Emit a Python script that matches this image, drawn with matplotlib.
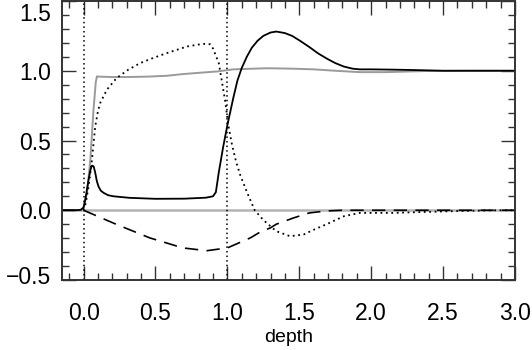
import matplotlib
matplotlib.use("Agg")
import matplotlib.pyplot as plt
from matplotlib.ticker import MultipleLocator
from matplotlib.transforms import ScaledTranslation

# solid black curve
x_solid = [-0.15, -0.06, -0.02, 0.0, 0.012, 0.035, 0.048, 0.058, 0.07, 0.081, 0.092,
           0.104, 0.12, 0.139, 0.17, 0.208, 0.32, 0.5, 0.7, 0.85, 0.9, 0.92, 0.94,
           0.97, 1.0, 1.04, 1.07, 1.1, 1.135, 1.17, 1.21, 1.25, 1.3, 1.34, 1.4, 1.45,
           1.505, 1.57, 1.63, 1.69, 1.75, 1.81, 1.87, 1.92, 2.0, 2.15, 2.3, 2.5, 2.75, 3.0]
y_solid = [0.0, 0.0, 0.003, 0.02, 0.077, 0.22, 0.29, 0.32, 0.315, 0.27, 0.21,
           0.17, 0.14, 0.125, 0.108, 0.10, 0.089, 0.082, 0.083, 0.09, 0.10, 0.13, 0.27,
           0.45, 0.61, 0.80, 0.93, 1.02, 1.10, 1.165, 1.215, 1.25, 1.274, 1.281, 1.27, 1.25,
           1.215, 1.17, 1.125, 1.088, 1.055, 1.03, 1.015, 1.01, 1.01, 1.008, 1.005, 1.0, 1.0, 1.0]

# dotted black curve
x_dot = [0.0, 0.015, 0.035, 0.058, 0.081, 0.1, 0.116, 0.162, 0.23, 0.31, 0.394, 0.48,
         0.58, 0.72, 0.83, 0.88, 0.9, 0.94, 0.96, 0.985, 1.005, 1.03, 1.06, 1.09, 1.14,
         1.19, 1.25, 1.3, 1.34, 1.435, 1.53, 1.6, 1.69, 1.81, 1.92, 2.15, 2.38, 2.62, 2.9, 3.0]
y_dot = [0.0, 0.05, 0.17, 0.36, 0.60, 0.71, 0.77, 0.864, 0.948, 1.007, 1.055, 1.09,
         1.127, 1.174, 1.193, 1.19, 1.16, 1.055, 0.935, 0.78, 0.62, 0.48, 0.35, 0.25, 0.12,
         0.0, -0.07, -0.115, -0.15, -0.186, -0.174, -0.14, -0.10, -0.043, -0.019, -0.019,
         -0.012, -0.005, 0.0, 0.0]

# dashed black curve
x_dash = [-0.15, 0.0, 0.07, 0.23, 0.46, 0.69, 0.857, 1.0, 1.16, 1.23, 1.3, 1.34, 1.46,
          1.57, 1.69, 1.8, 2.0, 2.5, 3.0]
y_dash = [0.0, 0.0, -0.031, -0.102, -0.198, -0.27, -0.29, -0.27, -0.198, -0.155, -0.126,
          -0.10, -0.055, -0.019, -0.005, 0.0, 0.0, 0.0, 0.0]

# grey curve
x_grey = [-0.15, -0.02, 0.0, 0.024, 0.047, 0.069, 0.085, 0.093, 0.1, 0.2, 0.3, 0.45,
          0.58, 0.69, 0.8, 0.93, 1.04, 1.27, 1.45, 1.6, 1.75, 1.92, 2.1, 2.38, 2.7, 3.0]
y_grey = [0.0, 0.0, 0.017, 0.125, 0.36, 0.72, 0.92, 0.96, 0.958, 0.955, 0.955, 0.958,
          0.964, 0.976, 0.985, 0.995, 1.01, 1.018, 1.015, 1.01, 1.0, 0.99, 0.99, 0.998, 1.0, 1.0]

zero_x = [-0.15, 3.0]
zero_y = [0.0, 0.0]
markers_x = [0.0, 1.0]

plt.rcParams["font.family"] = ["Liberation Sans", "DejaVu Sans"]

fig = plt.figure(figsize=(5.32, 3.5), dpi=100)
ax = fig.add_axes([62 / 532, 1 - 280 / 350, (515 - 62) / 532, (280 - 1) / 350])

ax.plot(zero_x, zero_y, color="#b4b4b4", lw=1.8)
for xv in markers_x:
    ax.axvline(xv, color="black", lw=1.1, linestyle=(0, (1, 2)))
ax.plot(x_grey, y_grey, color="#9a9a9a", lw=1.4)
ax.plot(x_dash, y_dash, color="black", lw=1.2, linestyle=(0, (8, 5)))
ax.plot(x_dot, y_dot, color="black", lw=1.3, linestyle=(0, (1, 2)))
ax.plot(x_solid, y_solid, color="black", lw=1.3)

ax.set_xlim(-0.15, 3.0)
ax.set_ylim(-0.5, 1.5)
ax.xaxis.set_major_locator(MultipleLocator(0.5))
ax.xaxis.set_minor_locator(MultipleLocator(0.1))
ax.yaxis.set_major_locator(MultipleLocator(0.5))
ax.yaxis.set_minor_locator(MultipleLocator(0.1))
ax.xaxis.set_major_formatter(lambda v, p: f"{v:.1f}".replace("-", "\u2212"))
ax.yaxis.set_major_formatter(lambda v, p: f"{v:.1f}".replace("-", "\u2212"))
ax.tick_params(which="both", direction="in", top=True, right=True, width=1.0, color="#333333")
ax.tick_params(which="major", length=10, labelsize=16.5)
ax.tick_params(which="minor", length=5)
ax.tick_params(axis="x", which="major", pad=16)
ax.tick_params(axis="y", which="major", pad=8)
for s in ax.spines.values():
    s.set_linewidth(1.4)
    s.set_color("#333333")

ax.set_xlabel("depth", fontsize=14, labelpad=3)

# nudge the end labels inside the figure like the original
fig.canvas.draw()
for tick in ax.yaxis.get_major_ticks():
    lab = tick.label1
    if lab.get_text() == "1.5":
        lab.set_transform(lab.get_transform() + ScaledTranslation(0, -0.11, fig.dpi_scale_trans))
    elif lab.get_text() == "\u22120.5":
        lab.set_transform(lab.get_transform() + ScaledTranslation(0, 0.055, fig.dpi_scale_trans))

fig.savefig("out.png", dpi=100)
